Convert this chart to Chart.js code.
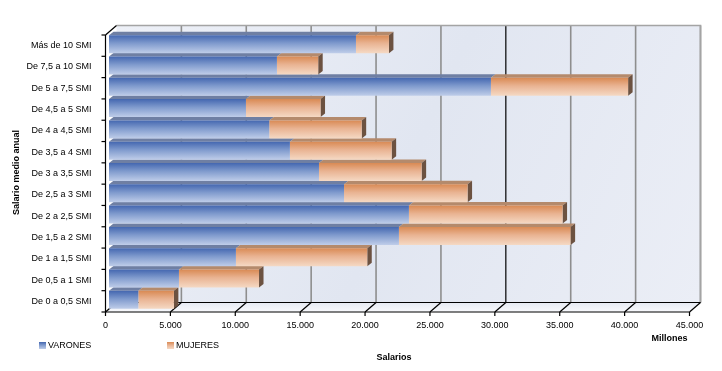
<!DOCTYPE html>
<html>
<head>
<meta charset="utf-8">
<script src="https://cdn.jsdelivr.net/npm/chart.js@4.4.0/dist/chart.umd.min.js"></script>
<style>
html,body{margin:0;padding:0;background:#fff;}
#wrap{width:722px;height:371px;}
</style>
</head>
<body>
<div id="wrap"><canvas id="grafico" width="722" height="371"></canvas></div>
<script>
// datos (millones)
let categorias = ['Más de 10 SMI','De 7,5 a 10 SMI','De 5 a 7,5 SMI','De 4,5 a 5 SMI','De 4 a 4,5 SMI',
    'De 3,5 a 4 SMI','De 3 a 3,5 SMI','De 2,5 a 3 SMI','De 2 a 2,5 SMI','De 1,5 a 2 SMI',
    'De 1 a 1,5 SMI','De 0,5 a 1 SMI','De 0 a 0,5 SMI'];
let varones = [19030,12940,29430,10550,12350,13940,16180,18110,23110,22340,9780,5390,2260];
let mujeres = [2540,3180,10570,5750,7120,7840,7910,9520,11840,13230,10120,6170,2740];
let valoresEje = [0,5000,10000,15000,20000,25000,30000,35000,40000,45000];

const FUENTE = 'Liberation Sans, Arial, sans-serif';
// profundidad de la pared y de las barras
const DX = 11, DY = 9.5;
const BDX = 4.5, BDY = 3.5;
const SX = 3.5, SY = -1.5;

function formatoMiles(v){
    return v.toString().replace(/\B(?=(\d{3})+(?!\d))/g, '.');
}

function gradBarra(ctx, top, bottom, azul){
    let g = ctx.createLinearGradient(0, top, 0, bottom);
    if(azul){
        g.addColorStop(0, '#4467b0');
        g.addColorStop(0.45, '#7f9acd');
        g.addColorStop(1, '#bfcde9');
    } else {
        g.addColorStop(0, '#d98a54');
        g.addColorStop(0.45, '#e9b392');
        g.addColorStop(1, '#f5d9c4');
    }
    return g;
}

const efecto3d = {
    id: 'efecto3d',
    beforeDatasetsDraw(chart){
        const ctx = chart.ctx, a = chart.chartArea, sx = chart.scales.x, sy = chart.scales.y;
        ctx.save();
        // pared del fondo
        let g = ctx.createLinearGradient(a.left+DX, a.top-DY, a.right+DX, a.bottom-DY);
        g.addColorStop(0, '#edf0f7');
        g.addColorStop(0.5, '#e1e6f1');
        g.addColorStop(1, '#ebeef6');
        ctx.fillStyle = g;
        ctx.fillRect(a.left+DX, a.top-DY, a.right-a.left, a.bottom-a.top);

        // lineas de division
        sx.ticks.forEach(t => {
            if(t.value === 0) return;
            let px = sx.getPixelForValue(t.value) + DX;
            ctx.strokeStyle = t.value === 30000 ? '#000000' : '#8e8e8e';
            ctx.lineWidth = t.value === 30000 ? 1.2 : 1.6;
            ctx.beginPath();
            ctx.moveTo(px, a.top-DY);
            ctx.lineTo(px, a.bottom-DY);
            ctx.stroke();
        });
        ctx.strokeStyle = '#a4a4a4';
        ctx.lineWidth = 1.6;
        ctx.beginPath();
        ctx.moveTo(a.left+DX, a.top-DY);
        ctx.lineTo(a.right+DX, a.top-DY);
        ctx.lineTo(a.right+DX, a.bottom-DY);
        ctx.stroke();

        // suelo
        let gs = ctx.createLinearGradient(0, a.bottom-DY, 0, a.bottom);
        gs.addColorStop(0, '#e6eaf3');
        gs.addColorStop(1, '#f8f9fc');
        ctx.fillStyle = gs;
        ctx.beginPath();
        ctx.moveTo(a.left, a.bottom);
        ctx.lineTo(a.right, a.bottom);
        ctx.lineTo(a.right+DX, a.bottom-DY);
        ctx.lineTo(a.left+DX, a.bottom-DY);
        ctx.closePath();
        ctx.fill();
        ctx.strokeStyle = '#000';
        ctx.lineWidth = 1.2;
        ctx.beginPath();
        ctx.moveTo(a.left+DX, a.bottom-DY);
        ctx.lineTo(a.right+DX, a.bottom-DY);
        ctx.stroke();
        sx.ticks.forEach(t => {
            let px = sx.getPixelForValue(t.value);
            ctx.beginPath();
            ctx.moveTo(px, a.bottom);
            ctx.lineTo(px+DX, a.bottom-DY);
            ctx.stroke();
        });
        // esquina superior izquierda
        ctx.beginPath();
        ctx.moveTo(a.left, a.top);
        ctx.lineTo(a.left+DX, a.top-DY);
        ctx.stroke();

        // barras: caras superior y lateral
        ctx.translate(SX, SY);
        let nds = chart.data.datasets.length;
        chart.data.datasets.forEach((ds, di) => {
            let meta = chart.getDatasetMeta(di);
            meta.data.forEach(el => {
                let p = el.getProps(['x','y','base','height'], true);
                let top = p.y - p.height/2, bot = p.y + p.height/2;
                let l = Math.min(p.base, p.x), r = Math.max(p.base, p.x);
                ctx.fillStyle = di === 0 ? '#6f7fa3' : '#b48a6c';
                ctx.beginPath();
                ctx.moveTo(l, top);
                ctx.lineTo(r, top);
                ctx.lineTo(r+BDX, top-BDY);
                ctx.lineTo(l+BDX, top-BDY);
                ctx.closePath();
                ctx.fill();
                if(di === nds-1){
                    ctx.fillStyle = '#6c5241';
                    ctx.beginPath();
                    ctx.moveTo(r, top);
                    ctx.lineTo(r+BDX, top-BDY);
                    ctx.lineTo(r+BDX, bot-BDY);
                    ctx.lineTo(r, bot);
                    ctx.closePath();
                    ctx.fill();
                }
                el.options.backgroundColor = gradBarra(ctx, top, bot, di === 0);
            });
        });
    },
    afterDatasetsDraw(chart){
        const ctx = chart.ctx, a = chart.chartArea, sx = chart.scales.x, sy = chart.scales.y;
        ctx.restore();
        ctx.save();
        ctx.strokeStyle = '#000';
        ctx.lineWidth = 1.2;
        // eje X
        ctx.beginPath();
        ctx.moveTo(a.left, a.bottom);
        ctx.lineTo(a.right, a.bottom);
        ctx.stroke();
        sx.ticks.forEach(t => {
            let px = sx.getPixelForValue(t.value);
            ctx.beginPath();
            ctx.moveTo(px, a.bottom);
            ctx.lineTo(px, a.bottom+4);
            ctx.stroke();
        });
        // eje Y
        ctx.beginPath();
        ctx.moveTo(a.left, a.top);
        ctx.lineTo(a.left, a.bottom);
        ctx.stroke();
        let paso = (a.bottom - a.top) / categorias.length;
        for(let i=0; i<=categorias.length; i++){
            let py = a.top + i*paso;
            ctx.beginPath();
            ctx.moveTo(a.left-4, py);
            ctx.lineTo(a.left, py);
            ctx.stroke();
        }

        // titulos
        ctx.fillStyle = '#000';
        ctx.font = 'bold 9px ' + FUENTE;
        ctx.textAlign = 'center';
        ctx.textBaseline = 'middle';
        ctx.fillText('Salarios', 394, 358);
        ctx.fillText('Millones', 669.5, 339);
        ctx.save();
        ctx.translate(17, 172.5);
        ctx.rotate(-Math.PI/2);
        ctx.fillText('Salario medio anual', 0, 0);
        ctx.restore();

        // leyenda
        let posLey = [39, 167];
        ctx.font = '9px ' + FUENTE;
        ctx.textAlign = 'left';
        chart.data.datasets.forEach((ds, di) => {
            let lx = posLey[di];
            ctx.fillStyle = gradBarra(ctx, 342, 349, di === 0);
            ctx.fillRect(lx, 342, 7, 7);
            ctx.fillStyle = '#000';
            ctx.fillText(ds.label, lx+9, 345.5);
        });
        ctx.restore();
    }
};

const ctx = document.getElementById('grafico').getContext('2d');
const grafico = new Chart(ctx, {
    type: 'bar',
    data: {
        labels: categorias,
        datasets: [
            {label: 'VARONES', data: varones, backgroundColor: c => '#6f8dc8', borderWidth: 0,
             barPercentage: 0.845, categoryPercentage: 1},
            {label: 'MUJERES', data: mujeres, backgroundColor: c => '#e6a87c', borderWidth: 0,
             barPercentage: 0.845, categoryPercentage: 1}
        ]
    },
    options: {
        indexAxis: 'y',
        responsive: false,
        animation: false,
        layout: {padding: {left: 0, top: 35, right: 32.5, bottom: 0}},
        plugins: {legend: {display: false}, tooltip: {enabled: false}},
        scales: {
            x: {
                stacked: true,
                min: 0, max: 45000,
                afterBuildTicks: s => { s.ticks = valoresEje.map(v => ({value: v})); },
                afterFit: s => { s.height = 59; },
                grid: {display: false},
                border: {display: false},
                ticks: {
                    color: '#000', font: {family: FUENTE, size: 9}, padding: 0,
                    maxRotation: 0, autoSkip: false,
                    callback: v => formatoMiles(v)
                }
            },
            y: {
                stacked: true,
                afterFit: s => { s.width = 105.5; },
                grid: {display: false},
                border: {display: false},
                ticks: {color: '#000', font: {family: FUENTE, size: 9}, padding: 6, autoSkip: false}
            }
        }
    },
    plugins: [efecto3d]
});
</script>
</body>
</html>
